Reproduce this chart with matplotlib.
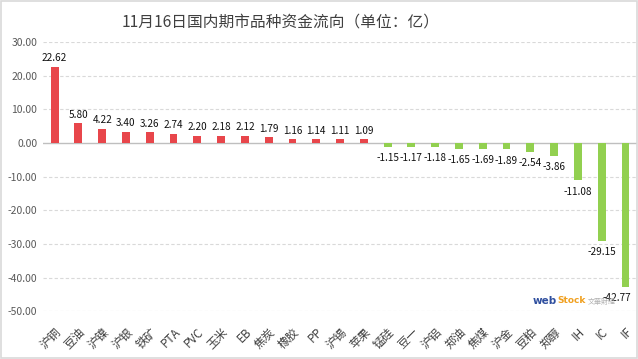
import matplotlib
matplotlib.use("Agg")
import matplotlib.pyplot as plt
from matplotlib.patches import Rectangle

plt.rcParams['font.family'] = ['Noto Sans CJK SC', 'DejaVu Sans']

categories = ['沪铜', '豆油', '沪镍', '沪银', '铁矿', 'PTA', 'PVC', '玉米', 'EB', '焦炭',
              '橡胶', 'PP', '沪锡', '苹果', '锰硅', '豆一', '沪铝', '郑油', '焦煤', '沪金',
              '豆粕', '郑醇', 'IH', 'IC', 'IF']
values = [22.62, 5.80, 4.22, 3.40, 3.26, 2.74, 2.20, 2.18, 2.12, 1.79,
          1.16, 1.14, 1.11, 1.09, -1.15, -1.17, -1.18, -1.65, -1.69, -1.89,
          -2.54, -3.86, -11.08, -29.15, -42.77]
yticks = [30, 20, 10, 0, -10, -20, -30, -40, -50]

red = '#E8464B'
green = '#92D050'
colors = [red if v > 0 else green for v in values]

fig = plt.figure(figsize=(6.38, 3.59), dpi=100)
fig.patches.append(Rectangle((0.002, 0.003), 0.996, 0.994, transform=fig.transFigure,
                             fill=False, edgecolor='#d9d9d9', linewidth=1.2))
ax = fig.add_axes([0.067, 0.133, 0.932, 0.75])

x = list(range(len(values)))
ax.bar(x, values, width=0.33, color=colors, zorder=3)

last = len(values) - 1
for i, v in enumerate(values):
    if v > 0:
        ax.text(i, v + 1.0, f'{v:.2f}', ha='center', va='bottom', fontsize=7.2, color='#111111')
    else:
        # keep the last label inside the frame, like the original
        xi = i - 0.35 if i == last else i
        ax.text(xi, v - 1.9, f'{v:.2f}', ha='center', va='top', fontsize=7.2,
                color='#111111', zorder=5)

ax.set_ylim(-50, 30)
ax.set_xlim(-0.5, len(values) - 0.5)
ax.set_yticks(yticks)
ax.set_yticklabels([f'{t:.2f}' for t in yticks], fontsize=7.5, color='#595959')
ax.set_xticks(x)
ax.set_xticklabels(categories, rotation=45, ha='right', va='top', fontsize=8.5,
                   color='#404040', rotation_mode='anchor')
ax.tick_params(axis='both', length=0, pad=4)
ax.tick_params(axis='x', pad=10)

for t in yticks:
    if t == 0:
        ax.axhline(0, color='#bfbfbf', linewidth=1, zorder=2)
    else:
        ax.axhline(t, color='#d9d9d9', linewidth=0.8, linestyle=(0, (3, 2)), zorder=1)

for s in ax.spines.values():
    s.set_visible(False)

fig.text(0.44, 0.939, '11月16日国内期市品种资金流向（单位：亿）', ha='center', va='center',
         fontsize=11.3, color='#404040')

# watermark
fig.text(0.835, 0.162, 'web', fontsize=7.5, color='#2f4f9f', fontweight='bold',
         family='DejaVu Sans', ha='left', va='center')
fig.text(0.873, 0.162, 'Stock', fontsize=6.5, color='#f0a020', fontweight='bold',
         family='DejaVu Sans', ha='left', va='center')
fig.text(0.922, 0.159, '文華財經', fontsize=5, color='#b0b0b0', ha='left', va='center')

plt.savefig('out.png', dpi=100)
